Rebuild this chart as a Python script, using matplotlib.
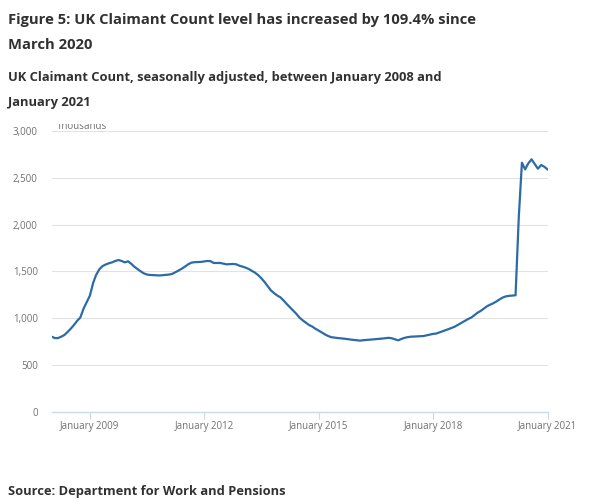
import numpy as np
import matplotlib
matplotlib.use("Agg")
import matplotlib.pyplot as plt
import matplotlib.dates as mdates
from matplotlib.transforms import Bbox, TransformedBbox
import datetime as dt

# Monthly claimant count (thousands), Jan 2008 - Jan 2021
start_year, start_month = 2008, 1
values = [
    800, 785, 785, 800, 818, 850, 885, 925, 970, 1005, 1100, 1170,      # 2008
    1240, 1375, 1460, 1520, 1555, 1572, 1585, 1595, 1610, 1620, 1610, 1595,  # 2009
    1606, 1580, 1550, 1525, 1500, 1478, 1465, 1460, 1458, 1457, 1455, 1458,  # 2010
    1462, 1465, 1472, 1490, 1508, 1528, 1550, 1575, 1592, 1597, 1598, 1600,  # 2011
    1605, 1610, 1608, 1588, 1588, 1589, 1582, 1574, 1576, 1578, 1575, 1560,  # 2012
    1550, 1538, 1525, 1505, 1485, 1458, 1425, 1385, 1340, 1295, 1265, 1240,  # 2013
    1220, 1185, 1150, 1115, 1082, 1045, 1005, 975, 950, 925, 908, 885,       # 2014
    865, 845, 825, 808, 795, 790, 786, 783, 779, 774, 770, 766,              # 2015
    762, 758, 762, 765, 767, 770, 773, 777, 780, 784, 788, 783,              # 2016
    772, 761, 775, 787, 795, 800, 802, 804, 806, 807, 815, 823,              # 2017
    830, 834, 845, 858, 870, 883, 895, 910, 930, 950, 970, 988,              # 2018
    1005, 1030, 1055, 1075, 1100, 1125, 1142, 1158, 1178, 1200, 1220, 1232,  # 2019
    1237, 1240, 1243, 2080, 2661, 2590, 2654, 2697, 2647, 2597, 2636, 2618,  # 2020
    2590,                                                                    # 2021
]
dates = [dt.date(start_year + (start_month - 1 + i) // 12, (start_month - 1 + i) % 12 + 1, 1)
         for i in range(len(values))]

y_ticks = [0, 500, 1000, 1500, 2000, 2500, 3000]
y_tick_labels = ["0", "500", "1,000", "1,500", "2,000", "2,500", "3,000"]
x_tick_years = [2009, 2012, 2015, 2018, 2021]
x_tick_labels = ["January %d" % y for y in x_tick_years]

title_lines = ["Figure 5: UK Claimant Count level has increased by 109.4% since", "March 2020"]
subtitle_lines = ["UK Claimant Count, seasonally adjusted, between January 2008 and", "January 2021"]
source_text = "Source: Department for Work and Pensions"
unit_label = "Thousands"

plt.rcParams['font.family'] = ['Open Sans', 'DejaVu Sans']

W, H = 600, 504
fig = plt.figure(figsize=(W / 100, H / 100), dpi=100)
left, right, bottom, top = 51.7, 547.5, 411.5, 131.0
ax = fig.add_axes([left / W, 1 - bottom / H, (right - left) / W, (bottom - top) / H])

line_color = "#2b6ba6"
grid_color = "#e2e2e2"
axis_color = "#cdd9e5"
label_color = "#707071"
title_color = "#323132"

ax.plot(dates, values, color=line_color, lw=1.6, solid_joinstyle="round", zorder=3)

ax.set_xlim(dates[0], dates[-1])
ax.set_ylim(0, 3000)
ax.set_yticks(y_ticks)
ax.set_yticklabels(y_tick_labels)
ax.set_xticks([dt.date(y, 1, 1) for y in x_tick_years])
ax.set_xticklabels(x_tick_labels)

for s in ["top", "right", "left"]:
    ax.spines[s].set_visible(False)
ax.spines["bottom"].set_color(axis_color)
ax.spines["bottom"].set_linewidth(1.0)

ax.yaxis.grid(True, color=grid_color, lw=0.8)
ax.set_axisbelow(True)
ax.tick_params(axis="y", length=0, pad=10, labelsize=7, labelcolor=label_color)
ax.tick_params(axis="x", length=5, width=0.8, color=axis_color, pad=2,
               labelsize=7, labelcolor=label_color)
ax.set_facecolor("white")

# Titles
fig.text(8 / W, 1 - 20 / H, title_lines[0], fontsize=10.6, fontweight="bold",
         color=title_color, va="center", ha="left")
fig.text(8 / W, 1 - 45 / H, title_lines[1], fontsize=10.6, fontweight="bold",
         color=title_color, va="center", ha="left")
fig.text(8 / W, 1 - 78 / H, subtitle_lines[0], fontsize=9.3, fontweight="bold",
         color=title_color, va="center", ha="left")
fig.text(8 / W, 1 - 103 / H, subtitle_lines[1], fontsize=9.3, fontweight="bold",
         color=title_color, va="center", ha="left")
fig.text(8 / W, 1 - 492 / H, source_text, fontsize=9.3, fontweight="bold",
         color=title_color, va="center", ha="left")

t = fig.text(57 / W, 1 - 129 / H, unit_label, fontsize=7, color=label_color,
             va="baseline", ha="left")
t.set_clip_box(TransformedBbox(Bbox([[0, 0], [1, 1 - 124 / H]]), fig.transFigure))
t.set_clip_on(True)

fig.savefig("out.png", dpi=100, facecolor="white")
